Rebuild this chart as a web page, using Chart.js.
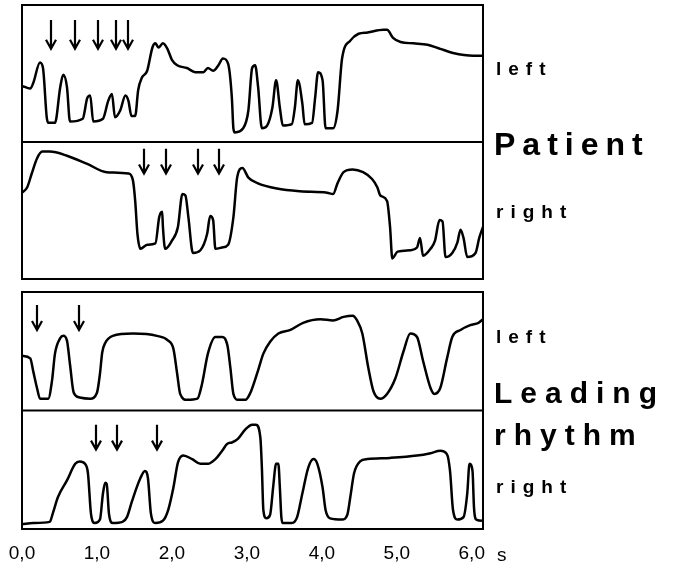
<!DOCTYPE html>
<html lang="en">
<head>
<meta charset="UTF-8">
<title>Patient and leading rhythm</title>
<script src="https://cdn.jsdelivr.net/npm/chart.js"></script>
<style>
  html, body { margin: 0; padding: 0; background: #fff; overflow: hidden; }
  body { width: 675px; height: 567px; position: relative; font-family: "Liberation Sans", Arial, sans-serif; color: #000; }
  canvas { position: absolute; left: 0; }
  .lbl { position: absolute; font-weight: bold; line-height: 1; white-space: nowrap; }
</style>
</head>
<body>
<canvas id="patientChart" width="675" height="285" style="top:0"></canvas>
<canvas id="leadingChart" width="675" height="282" style="top:285px"></canvas>

<div class="lbl" style="left:496px;top:59px;font-size:19px;letter-spacing:7px">left</div>
<div class="lbl" style="left:494px;top:128px;font-size:32px;letter-spacing:7px">Patient</div>
<div class="lbl" style="left:496px;top:202px;font-size:19px;letter-spacing:7px">right</div>
<div class="lbl" style="left:496px;top:327px;font-size:19px;letter-spacing:7px">left</div>
<div class="lbl" style="left:494px;top:378px;font-size:30px;letter-spacing:8px">Leading</div>
<div class="lbl" style="left:494px;top:420px;font-size:30px;letter-spacing:8px">rhythm</div>
<div class="lbl" style="left:496px;top:477px;font-size:19px;letter-spacing:7px">right</div>
<div class="lbl" style="left:497px;top:545px;font-size:19px;font-weight:normal">s</div>

<script>
// time axis (seconds)
const xTicks = [0, 1, 2, 3, 4, 5, 6];
const tickLabels = ['0,0', '1,0', '2,0', '3,0', '4,0', '5,0', '6,0'];
const xMax = 6.15;

// patient, left
const patientLeftT = [0, 0.11, 0.15, 0.24, 0.28, 0.33, 0.35, 0.44, 0.51, 0.55, 0.60, 0.64, 0.81, 0.87, 0.91, 0.95, 1.08, 1.15, 1.20, 1.24, 1.31, 1.38, 1.42, 1.46, 1.51, 1.55, 1.60, 1.67, 1.74, 1.78, 1.82, 1.88, 1.94, 2.00, 2.07, 2.20, 2.31, 2.42, 2.48, 2.55, 2.62, 2.68, 2.75, 2.80, 2.82, 2.84, 2.95, 3.02, 3.07, 3.11, 3.15, 3.20, 3.27, 3.34, 3.39, 3.44, 3.48, 3.60, 3.64, 3.68, 3.74, 3.77, 3.87, 3.91, 3.95, 4.01, 4.05, 4.15, 4.21, 4.27, 4.38, 4.49, 4.61, 4.82, 4.87, 4.95, 5.05, 5.22, 5.41, 5.58, 5.75, 6.02, 6.15];
const patientLeftY = [41, 39, 43, 58, 54, 18, 14, 14, 40, 49, 40, 15, 17, 32, 34, 15, 17, 30, 35, 18, 23, 34, 30, 19, 19, 38, 47, 52, 69, 72, 69, 72, 68, 60, 56, 54, 51, 51, 54, 52, 56, 61, 57, 32, 10, 7, 10, 23, 54, 56, 40, 10, 12, 25, 45, 25, 12, 13, 25, 45, 28, 13, 14, 32, 51, 45, 10, 10, 23, 61, 74, 79, 80, 82, 82, 76, 73, 72, 71, 68, 65, 63, 63];
const patientLeftArrows = [0.39, 0.71, 1.01, 1.25, 1.42];

// patient, right
const patientRightT = [0, 0.07, 0.13, 0.20, 0.27, 0.37, 0.60, 0.87, 1.13, 1.42, 1.48, 1.51, 1.54, 1.58, 1.67, 1.78, 1.83, 1.87, 1.88, 1.91, 2.00, 2.08, 2.14, 2.18, 2.22, 2.28, 2.38, 2.47, 2.51, 2.55, 2.58, 2.67, 2.75, 2.82, 2.87, 2.94, 3.02, 3.14, 3.40, 3.71, 4.07, 4.15, 4.21, 4.29, 4.41, 4.55, 4.67, 4.74, 4.78, 4.87, 4.91, 4.94, 5.01, 5.18, 5.27, 5.31, 5.35, 5.45, 5.51, 5.57, 5.61, 5.65, 5.74, 5.81, 5.85, 5.89, 5.94, 6.05, 6.10, 6.15];
const patientRightY = [63, 67, 77, 88, 93, 93, 90, 84, 78, 77, 72, 57, 33, 22, 25, 26, 45, 49, 38, 22, 28, 38, 62, 61, 45, 19, 21, 33, 46, 43, 22, 23, 25, 45, 74, 81, 74, 70, 66, 64, 63, 62, 70, 78, 80, 78, 73, 67, 61, 57, 38, 15, 20, 21, 23, 30, 17, 22, 28, 43, 42, 16, 19, 27, 36, 30, 16, 19, 30, 38];
const patientRightArrows = [1.63, 1.92, 2.35, 2.63];

// leading rhythm, left
const leadingLeftT = [0, 0.11, 0.15, 0.20, 0.24, 0.35, 0.40, 0.44, 0.51, 0.55, 0.60, 0.64, 0.69, 0.77, 0.91, 1.00, 1.04, 1.07, 1.11, 1.21, 1.48, 1.80, 1.95, 2.02, 2.07, 2.11, 2.20, 2.34, 2.40, 2.48, 2.58, 2.67, 2.74, 2.78, 2.82, 2.88, 2.98, 3.04, 3.14, 3.22, 3.31, 3.42, 3.58, 3.75, 3.98, 4.15, 4.29, 4.41, 4.47, 4.54, 4.62, 4.69, 4.78, 4.87, 4.98, 5.09, 5.18, 5.27, 5.35, 5.45, 5.50, 5.58, 5.67, 5.74, 5.85, 5.98, 6.09, 6.15];
const leadingLeftY = [46, 44, 33, 19, 10, 10, 25, 48, 61, 63, 59, 39, 15, 11, 10, 15, 31, 49, 57, 63, 65, 63, 59, 52, 31, 14, 9, 10, 22, 48, 62, 62, 55, 36, 14, 9, 9, 14, 32, 48, 58, 65, 68, 74, 77, 76, 79, 80, 76, 65, 36, 16, 10, 14, 27, 50, 65, 62, 42, 19, 14, 19, 44, 62, 68, 72, 74, 77];
const leadingLeftArrows = [0.20, 0.76];

// leading rhythm, right
const leadingRightT = [0, 0.15, 0.37, 0.41, 0.48, 0.60, 0.71, 0.77, 0.84, 0.88, 0.92, 0.97, 1.04, 1.08, 1.11, 1.13, 1.16, 1.21, 1.34, 1.40, 1.47, 1.58, 1.64, 1.68, 1.72, 1.78, 1.88, 1.95, 2.02, 2.08, 2.15, 2.27, 2.38, 2.48, 2.58, 2.67, 2.74, 2.80, 2.88, 2.98, 3.07, 3.12, 3.18, 3.20, 3.22, 3.26, 3.31, 3.35, 3.39, 3.42, 3.44, 3.46, 3.48, 3.60, 3.67, 3.74, 3.82, 3.89, 3.94, 4.01, 4.05, 4.11, 4.27, 4.34, 4.38, 4.43, 4.51, 4.61, 4.91, 5.27, 5.45, 5.58, 5.67, 5.71, 5.75, 5.81, 5.89, 5.94, 5.97, 6.01, 6.03, 6.06, 6.15];
const leadingRightY = [4, 5, 6, 13, 27, 41, 55, 57, 55, 47, 13, 5, 8, 30, 39, 38, 13, 5, 6, 10, 24, 43, 49, 43, 13, 5, 7, 16, 35, 56, 62, 59, 55, 55, 59, 66, 72, 73, 76, 84, 88, 88, 77, 52, 16, 9, 12, 35, 55, 55, 35, 10, 5, 5, 10, 30, 52, 59, 55, 35, 16, 9, 8, 12, 27, 47, 57, 59, 60, 62, 64, 66, 63, 49, 16, 8, 10, 30, 55, 49, 18, 8, 7];
const leadingRightArrows = [0.99, 1.27, 1.80];

// arrow shaft from / to, in panel units (0..100)
const arrowSpans = { patientLeft: [89, 68], patientRight: [95, 77], leadingLeft: [89, 68], leadingRight: [88, 67] };

const ink = '#000';

function points(ts, ys) {
  return ts.map((t, i) => ({ x: t, y: ys[i] }));
}

// frame, divider and arrows
const framePlugin = {
  id: 'frame',
  afterDraw(chart, args, opts) {
    const { ctx, chartArea: a, scales } = chart;
    ctx.save();
    ctx.strokeStyle = ink;
    ctx.lineWidth = 2;
    ctx.strokeRect(a.left, a.top, a.right - a.left, a.bottom - a.top);
    const mid = scales.yTop.bottom;
    ctx.beginPath();
    ctx.moveTo(a.left, mid);
    ctx.lineTo(a.right, mid);
    ctx.stroke();

    ctx.lineWidth = 2.2;
    opts.arrows.forEach(set => {
      const ys = scales[set.axis];
      const y0 = ys.getPixelForValue(set.span[0]);
      const y1 = ys.getPixelForValue(set.span[1]);
      set.times.forEach(t => {
        const x = Math.round(scales.x.getPixelForValue(t));
        ctx.beginPath();
        ctx.moveTo(x, y0);
        ctx.lineTo(x, y1);
        ctx.moveTo(x - 5, y1 - 9);
        ctx.lineTo(x, y1);
        ctx.lineTo(x + 5, y1 - 9);
        ctx.stroke();
      });
    });
    ctx.restore();
  }
};

function makeChart(id, top, bottom, arrows, showAxis, padTop, padBottom) {
  const lineStyle = {
    borderColor: ink,
    borderWidth: 2.5,
    pointRadius: 0,
    cubicInterpolationMode: 'monotone',
    fill: false
  };
  return new Chart(document.getElementById(id), {
    type: 'line',
    data: {
      datasets: [
        { ...lineStyle, label: top.label, data: top.data, yAxisID: 'yTop' },
        { ...lineStyle, label: bottom.label, data: bottom.data, yAxisID: 'yBottom' }
      ]
    },
    options: {
      responsive: false,
      animation: false,
      events: [],
      layout: { padding: { left: 22, right: 192, top: padTop, bottom: padBottom } },
      scales: {
        x: {
          type: 'linear',
          min: 0,
          max: xMax,
          display: showAxis,
          grid: { display: false, drawTicks: false },
          border: { display: false },
          afterBuildTicks: axis => { axis.ticks = xTicks.map(v => ({ value: v })); },
          afterFit: axis => {
            axis.height = showAxis ? 38 : 0;
            axis.paddingLeft = 0;
            axis.paddingRight = 0;
          },
          ticks: {
            padding: 13,
            maxRotation: 0,
            autoSkip: false,
            color: ink,
            font: { family: '"Liberation Sans", Arial, sans-serif', size: 19 },
            callback: v => tickLabels[xTicks.indexOf(v)]
          }
        },
        yTop: { type: 'linear', min: 0, max: 100, display: false, position: 'left', stack: 'panels', stackWeight: 1, weight: 1 },
        yBottom: { type: 'linear', min: 0, max: 100, display: false, position: 'left', stack: 'panels', stackWeight: 1, weight: 0 }
      },
      plugins: {
        legend: { display: false },
        tooltip: { enabled: false },
        frame: { arrows: arrows }
      }
    },
    plugins: [framePlugin]
  });
}

makeChart('patientChart',
  { label: 'Patient left', data: points(patientLeftT, patientLeftY) },
  { label: 'Patient right', data: points(patientRightT, patientRightY) },
  [
    { axis: 'yTop', times: patientLeftArrows, span: arrowSpans.patientLeft },
    { axis: 'yBottom', times: patientRightArrows, span: arrowSpans.patientRight }
  ],
  false, 5, 6);

makeChart('leadingChart',
  { label: 'Leading rhythm left', data: points(leadingLeftT, leadingLeftY) },
  { label: 'Leading rhythm right', data: points(leadingRightT, leadingRightY) },
  [
    { axis: 'yTop', times: leadingLeftArrows, span: arrowSpans.leadingLeft },
    { axis: 'yBottom', times: leadingRightArrows, span: arrowSpans.leadingRight }
  ],
  true, 7, 0);
</script>
</body>
</html>
